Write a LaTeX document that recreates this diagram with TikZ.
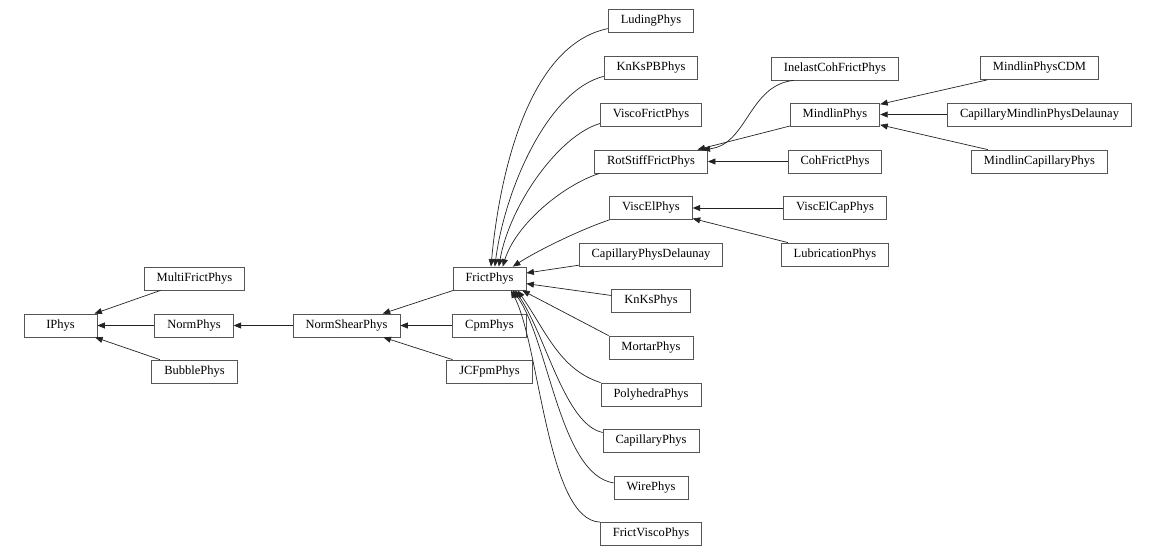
\documentclass[tikz,border=0pt]{standalone}
\usepackage{fontspec}
\setmainfont{Liberation Serif}
\definecolor{boxgray}{RGB}{85, 85, 85}
\definecolor{edgegray}{RGB}{35, 35, 35}
\usetikzlibrary{arrows.meta}

\begin{document}
\begin{tikzpicture}[x=1pt, y=-1pt,
  cls/.style={draw=boxgray, line width=0.8pt, minimum width=73pt, minimum height=23pt, inner xsep=12.5pt, inner ysep=0pt, font=\fontsize{12.5}{15}\selectfont},
  inh/.style={-{Triangle[length=7.5pt, width=6pt]}, draw=edgegray, line width=0.7pt}]
\useasboundingbox (0,0) rectangle (1157,556);

\node[cls] (iphys) at (60.5,325.5) {IPhys};
\node[cls] (multi) at (194.5,278.5) {MultiFrictPhys};
\node[cls] (norm) at (194,325.5) {NormPhys};
\node[cls] (bubble) at (194.5,371.5) {BubblePhys};
\node[cls] (nshear) at (346.5,325.5) {NormShearPhys};
\node[cls] (frict) at (489.5,278.5) {FrictPhys};
\node[cls] (cpm) at (489.5,325.5) {CpmPhys};
\node[cls] (jcfpm) at (489.5,371.5) {JCFpmPhys};

\node[cls] (luding) at (651,21) {LudingPhys};
\node[cls] (knkspb) at (651,68) {KnKsPBPhys};
\node[cls] (viscofrict) at (651,114.5) {ViscoFrictPhys};
\node[cls] (rotstiff) at (651,161.5) {RotStiffFrictPhys};
\node[cls] (viscel) at (651,208) {ViscElPhys};
\node[cls] (capdel) at (651,254.5) {CapillaryPhysDelaunay};
\node[cls] (knks) at (651,301) {KnKsPhys};
\node[cls] (mortar) at (651,347.5) {MortarPhys};
\node[cls] (polyhedra) at (651,394.5) {PolyhedraPhys};
\node[cls] (capillary) at (651,441) {CapillaryPhys};
\node[cls] (wire) at (651,487.5) {WirePhys};
\node[cls] (frictvisco) at (651,534) {FrictViscoPhys};

\node[cls] (inelast) at (835,68.5) {InelastCohFrictPhys};
\node[cls] (mindlin) at (835,114.5) {MindlinPhys};
\node[cls] (cohfrict) at (835,161.5) {CohFrictPhys};
\node[cls] (viscelcap) at (835,208) {ViscElCapPhys};
\node[cls] (lubrication) at (835,254.5) {LubricationPhys};

\node[cls] (mindlincdm) at (1039.5,68) {MindlinPhysCDM};
\node[cls] (capmindlin) at (1039.5,114.5) {CapillaryMindlinPhysDelaunay};
\node[cls] (mindlincap) at (1039.5,161.5) {MindlinCapillaryPhys};

\draw[inh] (multi) -- (iphys);
\draw[inh] (norm) -- (iphys);
\draw[inh] (bubble) -- (iphys);
\draw[inh] (nshear) -- (norm);
\draw[inh] (frict) -- (nshear);
\draw[inh] (cpm) -- (nshear);
\draw[inh] (jcfpm) -- (nshear);

\draw[inh] (luding.190) .. controls +(-78,16) and +(9,-97) .. (frict.83);
\draw[inh] (knkspb.190) .. controls +(-56,14) and +(10,-77) .. (frict.66);
\draw[inh] (viscofrict.190) .. controls +(-41,12) and +(11,-62) .. (frict.52);
\draw[inh] (rotstiff.193) .. controls +(-37,12) and +(13,-42) .. (frict.42);
\draw[inh] (viscel.south west) .. controls +(-31,10.5) and +(23,-15) .. (frict.27);
\draw[inh] (capdel) -- (frict);
\draw[inh] (knks) -- (frict);
\draw[inh] (mortar.north west) -- (frict.-20);
\draw[inh] (polyhedra.north west) .. controls +(-41,-13) and +(28,40) .. (frict.-23);
\draw[inh] (capillary.170) .. controls +(-38,-8) and +(31,45) .. (frict.-25);
\draw[inh] (wire.173) .. controls +(-54,-8) and +(36,50) .. (frict.-27);
\draw[inh] (frictvisco.north west) .. controls +(-53,-2) and +(29,55) .. (frict.-29);

\draw[inh] (inelast.196) .. controls +(-45,5) and +(45,-5) .. (rotstiff.13);
\draw[inh] (mindlin) -- (rotstiff);
\draw[inh] (cohfrict) -- (rotstiff);
\draw[inh] (viscelcap) -- (viscel);
\draw[inh] (lubrication) -- (viscel);
\draw[inh] (mindlincdm) -- (mindlin);
\draw[inh] (capmindlin) -- (mindlin);
\draw[inh] (mindlincap) -- (mindlin);
\end{tikzpicture}
\end{document}
